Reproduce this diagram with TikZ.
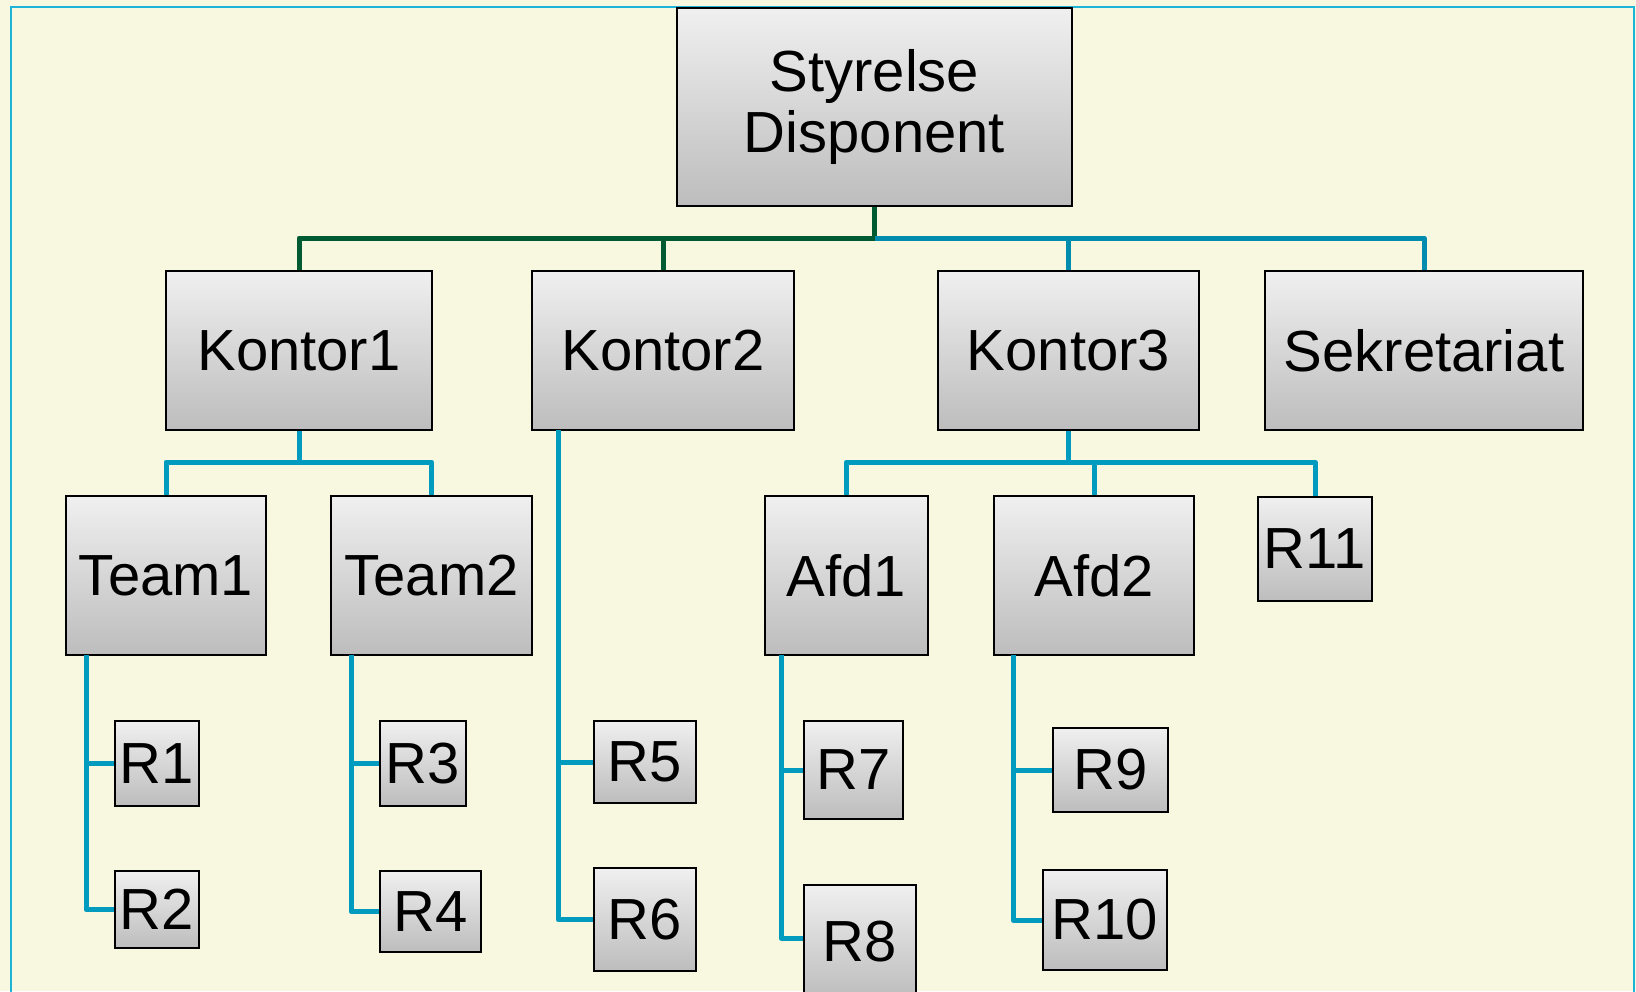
\documentclass[tikz,border=0pt]{standalone}
\usepackage{fontspec}
\setmainfont{Liberation Sans}
\definecolor{paper}{RGB}{248,248,224}
\definecolor{rim}{RGB}{30,180,215}
\definecolor{wireblue}{RGB}{0,155,190}
\definecolor{topblue}{RGB}{0,140,175}
\definecolor{wiregreen}{RGB}{0,90,50}
\begin{document}
\begin{tikzpicture}[x=1pt,y=-1pt,
  box/.style={draw=black,line width=2.4pt,top color=gray!12,bottom color=gray!52,
    inner sep=0pt,align=center,font=\fontsize{58}{61}\selectfont},
  blueline/.style={draw=wireblue,line width=5pt,line join=round},
  topline/.style={draw=topblue,line width=5pt,line join=round},
  greenline/.style={draw=wiregreen,line width=5pt,line join=round}]
\useasboundingbox (0,0) rectangle (1636,991);
\clip (0,0) rectangle (1636,991);
\fill[paper] (0,0) rectangle (1636,991);
\draw[rim,line width=2pt] (11,1000) -- (11,7) -- (1634,7) -- (1634,1000);

% top and first level
\node[box,minimum width=395,minimum height=198] (styr) at (874.5,107) {Styrelse\\Disponent};
\node[box,minimum width=266,minimum height=159] (k1) at (299,350.5) {Kontor1};
\node[box,minimum width=262,minimum height=159] (k2) at (663,350.5) {Kontor2};
\node[box,minimum width=261,minimum height=159] (k3) at (1068.5,350.5) {Kontor3};
\node[box,minimum width=318,minimum height=159] (sek) at (1424,350.5) {Sekretariat};

% second level
\node[box,minimum width=200,minimum height=159] (t1) at (166,575.5) {Team1};
\node[box,minimum width=201,minimum height=159] (t2) at (431.5,575.5) {Team2};
\node[box,minimum width=163,minimum height=159] (a1) at (846.5,575.5) {Afd1};
\node[box,minimum width=200,minimum height=159] (a2) at (1094,575.5) {Afd2};
\node[box,minimum width=114,minimum height=104] (r11) at (1315,549) {R11};

% rooms
\node[box,minimum width=84,minimum height=85] (r1) at (157,763.5) {R1};
\node[box,minimum width=84,minimum height=77] (r2) at (157,909.5) {R2};
\node[box,minimum width=86,minimum height=85] (r3) at (423,763.5) {R3};
\node[box,minimum width=101,minimum height=81] (r4) at (430.5,911.5) {R4};
\node[box,minimum width=102,minimum height=82] (r5) at (645,762) {R5};
\node[box,minimum width=102,minimum height=103] (r6) at (645,919.5) {R6};
\node[box,minimum width=99,minimum height=98] (r7) at (853.5,770) {R7};
\node[box,minimum width=112,minimum height=114] (r8) at (860,942) {R8};
\node[box,minimum width=115,minimum height=84] (r9) at (1110.5,770) {R9};
\node[box,minimum width=124,minimum height=100] (r10) at (1105,920) {R10};

% buses
\coordinate (hub) at (874.5,238);
\coordinate (hub1) at (299,462);
\coordinate (hub3) at (1068.5,462);
\draw[greenline] (styr.south) -- (hub) -| (k1.north);
\draw[greenline] (k2.north) -- (k2.north |- hub);
\draw[topline] (hub) -| (sek.north);
\draw[topline] (k3.north) -- (k3.north |- hub);
\draw[blueline] (k1.south) -- (hub1);
\draw[blueline] (t1.north) |- (hub1) -| (t2.north);
\draw[blueline] (k3.south) -- (hub3);
\draw[blueline] (a1.north) |- (hub3) -| (r11.north);
\draw[blueline] (a2.north) -- (a2.north |- hub3);

% spines down to the rooms
\coordinate (sp1) at (86,655);
\coordinate (sp2) at (351,655);
\coordinate (sp3) at (558,430);
\coordinate (sp4) at (781,655);
\coordinate (sp5) at (1013,655);
\draw[blueline] (sp1) |- (r2.west);
\draw[blueline] (sp1 |- r1.west) -- (r1.west);
\draw[blueline] (sp2) |- (r4.west);
\draw[blueline] (sp2 |- r3.west) -- (r3.west);
\draw[blueline] (sp3) |- (r6.west);
\draw[blueline] (sp3 |- r5.west) -- (r5.west);
\draw[blueline] (sp4) |- ([yshift=4pt]r8.west);
\draw[blueline] (sp4 |- r7.west) -- (r7.west);
\draw[blueline] (sp5) |- (r10.west);
\draw[blueline] (sp5 |- r9.west) -- (r9.west);
\end{tikzpicture}
\end{document}
